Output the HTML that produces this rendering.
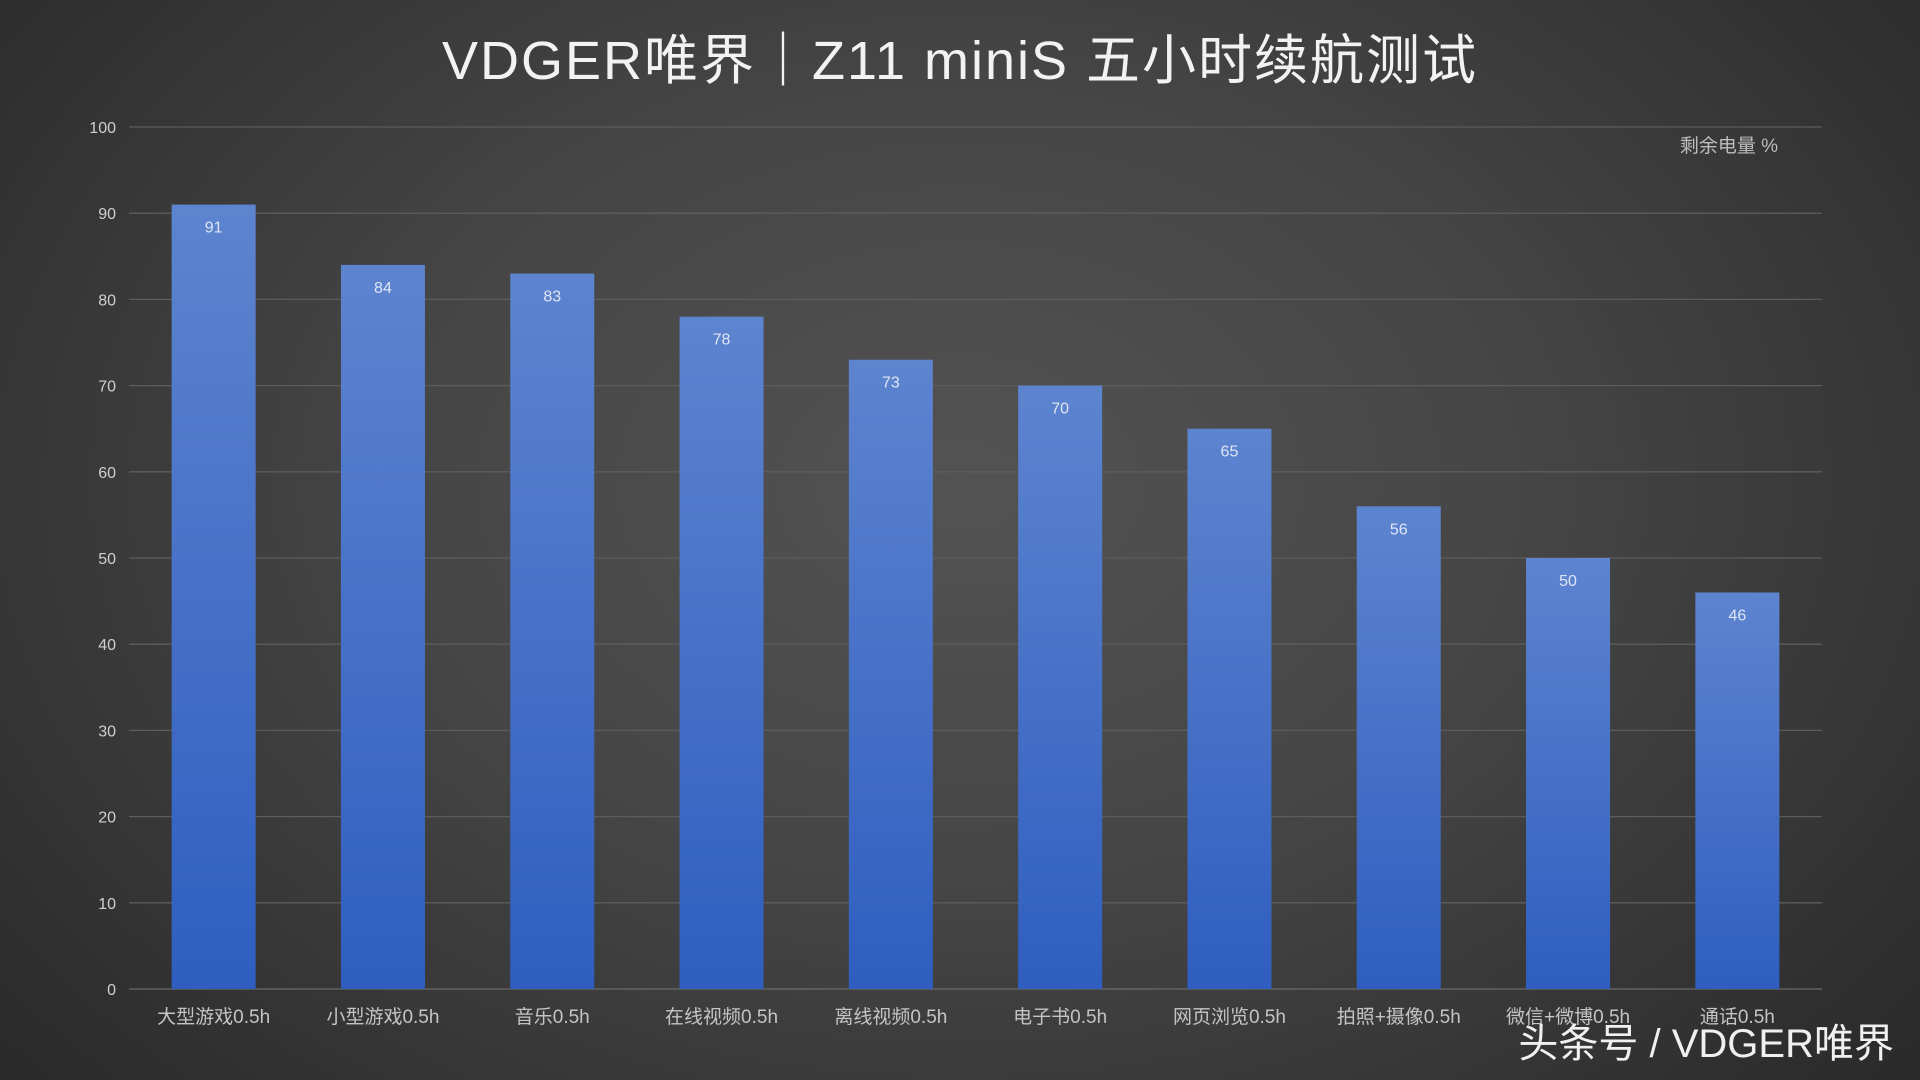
<!DOCTYPE html>
<html><head><meta charset="utf-8">
<style>
html,body{margin:0;padding:0;width:1920px;height:1080px;overflow:hidden;}
body{background:radial-gradient(ellipse 75% 95% at 50% 45%,#535353 0%,#454545 40%,#2e2e2e 80%,#242424 100%);font-family:"Liberation Sans","Noto Sans CJK SC",sans-serif;}
svg{position:absolute;left:0;top:0;}
</style></head>
<body>
<svg id="chart" width="1920" height="1080">
<defs>
<linearGradient id="barg" x1="0" y1="0" x2="0" y2="1">
<stop offset="0" stop-color="#5d84cf"/><stop offset="1" stop-color="#2f5ec0"/>
</linearGradient>
</defs>
<text x="960" y="79" text-anchor="middle" font-size="54" letter-spacing="2" fill="#f2f2f2">VDGER唯界｜Z11  miniS 五小时续航测试</text>
<text x="1778" y="152" text-anchor="end" font-size="19" fill="#bdbdbd">剩余电量 %</text>
<g id="grid"></g><g id="bars"></g><g id="labels"></g>
<text x="1894" y="1057" text-anchor="end" font-size="40" fill="#f0f0f0">头条号 / VDGER唯界</text>
</svg>
<script>
const categories=["大型游戏0.5h","小型游戏0.5h","音乐0.5h","在线视频0.5h","离线视频0.5h","电子书0.5h","网页浏览0.5h","拍照+摄像0.5h","微信+微博0.5h","通话0.5h"];
const values=[91,84,83,78,73,70,65,56,50,46];
const ticks=[0,10,20,30,40,50,60,70,80,90,100];
const NS="http://www.w3.org/2000/svg";
const x0=129,x1=1822,y0=989,y1=127;
const yS=v=>y0-(v/100)*(y0-y1);
const step=(x1-x0)/categories.length;
const xS=i=>x0+step*(i+0.5);
const bw=84;
function mk(t,a,p){const e=document.createElementNS(NS,t);for(const k in a)e.setAttribute(k,a[k]);p.appendChild(e);return e;}
const g=document.getElementById('grid'),b=document.getElementById('bars'),l=document.getElementById('labels');
ticks.forEach(t=>{
 const ln=mk('line',{x1:x0,x2:x1,y1:yS(t),y2:yS(t),stroke:t===0?'#6a6a6a':'#5c5c5c','stroke-width':1.3},g);
 
 
 const tx=mk('text',{x:116,y:yS(t)+6,'text-anchor':'end','font-size':16,fill:'#d0d0d0'},g);
 tx.textContent=t;
 
 
});
values.forEach((v,i)=>{
 const cx=xS(i);
 const r=mk('rect',{x:cx-bw/2,y:yS(v),width:bw,height:y0-yS(v),fill:'url(#barg)'},b);
 
 
 const vt=mk('text',{x:cx,y:yS(v)+28,'text-anchor':'middle','font-size':16,fill:'#dfe6f5'},l);
 vt.textContent=v;
 
 
 const ct=mk('text',{x:cx,y:1023,'text-anchor':'middle','font-size':19,fill:'#c4c4c4'},l);
 ct.textContent=categories[i];
 
 
});
</script>
</body></html>
